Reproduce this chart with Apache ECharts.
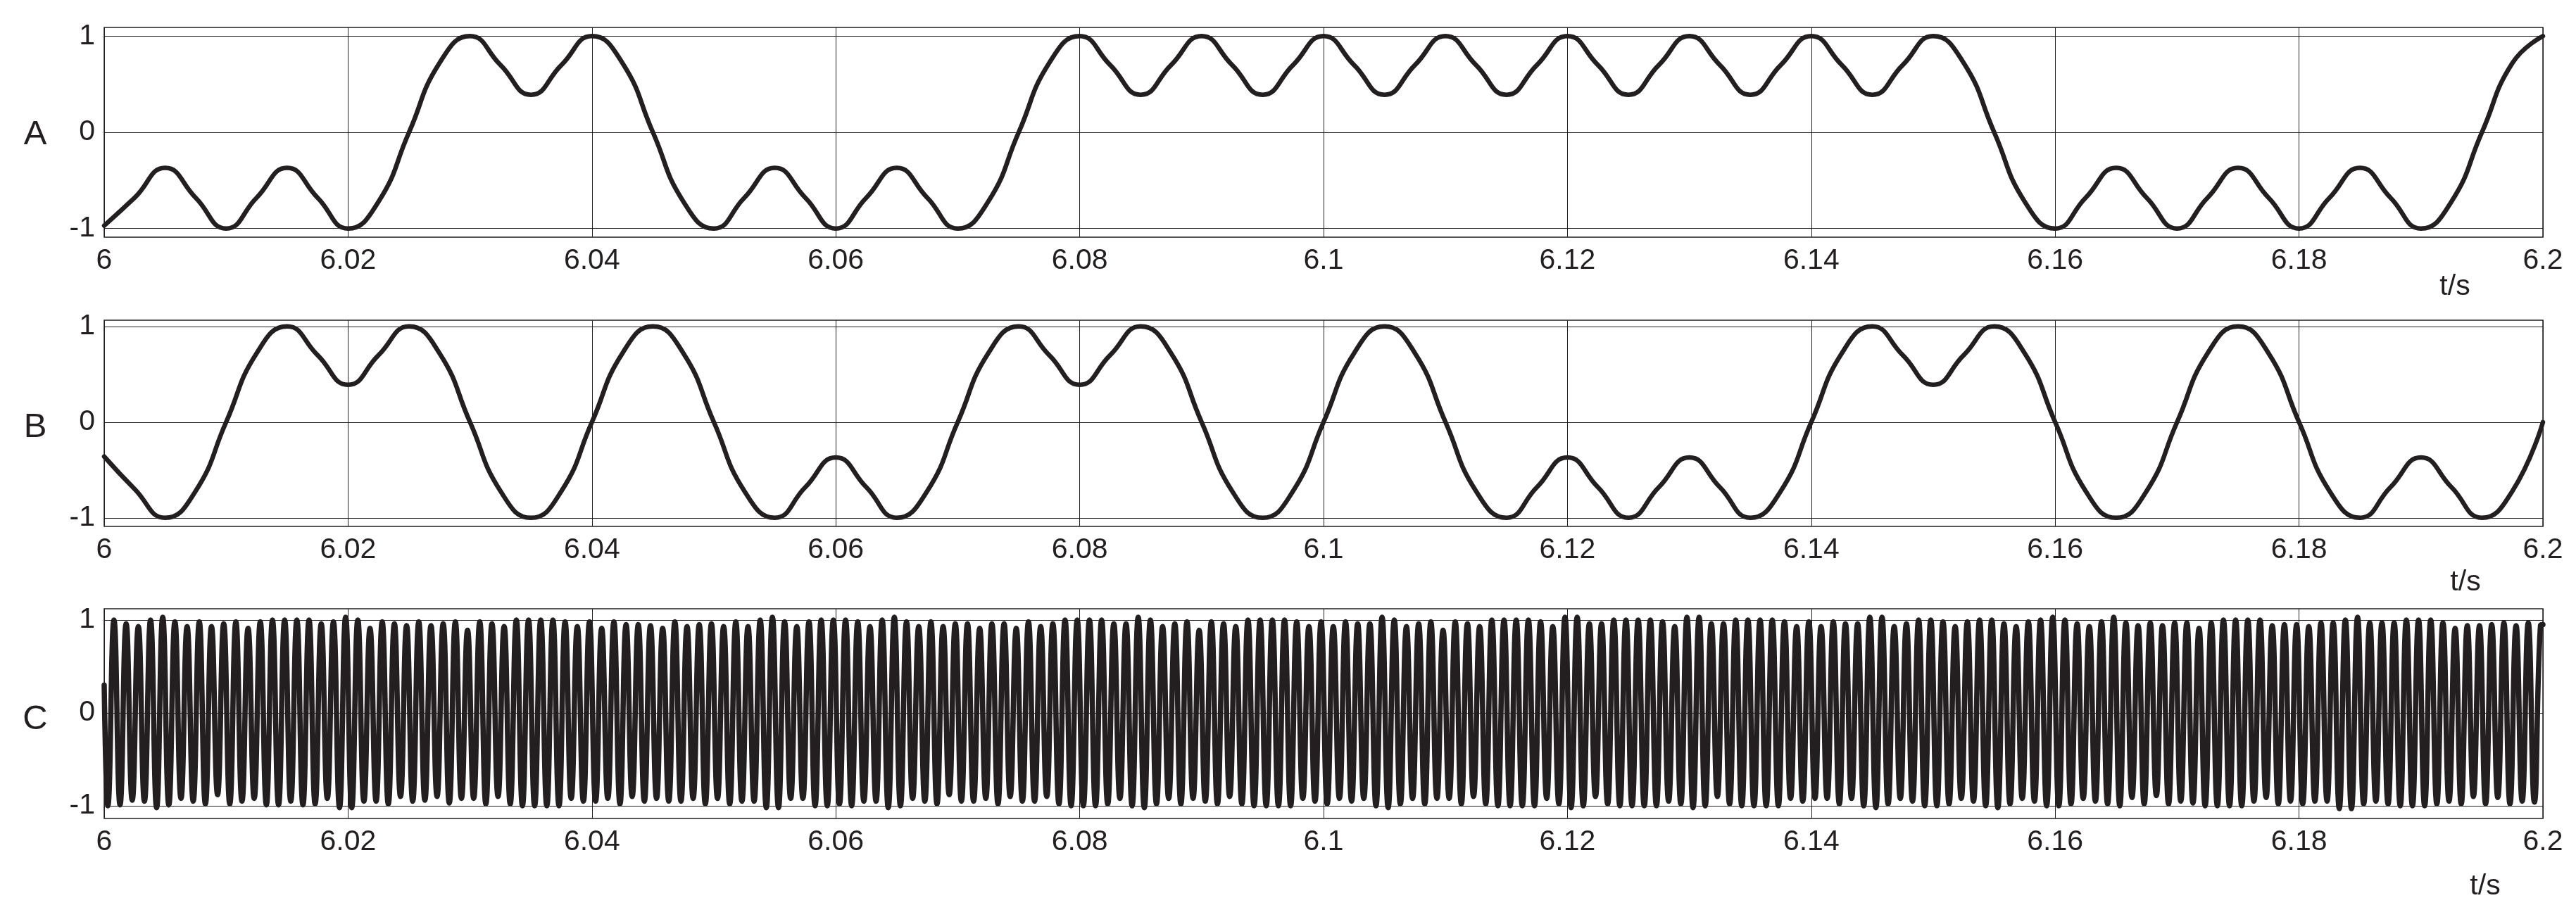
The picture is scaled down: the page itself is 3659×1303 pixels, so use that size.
<!DOCTYPE html>
<html><head><meta charset="utf-8">
<script src="https://cdn.jsdelivr.net/npm/echarts@6/dist/echarts.min.js"></script>
<style>html,body{margin:0;padding:0;background:#fff;}#c{width:3659px;height:1303px;}</style>
</head><body><div id="c"></div>
<script>
// ---- data ----
const tStart = 6, tEnd = 6.2, tStep = 0.02;
const yTickValues = [-1, 0, 1];
const panelNames = ['A', 'B', 'C'];
const axisUnit = 't/s';

// A and B sampled every 0.0025 s from t = 6.000 to 6.200
const abStep = 0.0025;
const seriesA = [
  -0.97,-0.68, -0.37,-0.68, -1,-0.68, -0.37,-0.68, -1,-0.72, 0,0.72, 1,0.7, 0.39,0.7, 1,0.72, 0,-0.72,
  -1,-0.68, -0.37,-0.68, -1,-0.68, -0.37,-0.68, -1,-0.72, 0,0.72, 1,0.7, 0.39,0.7, 1,0.7, 0.39,0.7,
  1,0.7, 0.39,0.7, 1,0.7, 0.39,0.7, 1,0.7, 0.39,0.7, 1,0.7, 0.39,0.7, 1,0.7, 0.39,0.7, 1,0.72, 0,-0.72,
  -1,-0.68, -0.37,-0.68, -1,-0.68, -0.37,-0.68, -1,-0.68, -0.37,-0.68, -1,-0.72, 0,0.72, 1
];
const seriesB = [
  -0.36,-0.7, -1,-0.72, 0,0.72, 1,0.7, 0.39,0.7, 1,0.72, 0,-0.72, -1,-0.72, 0,0.72, 1,0.72,
  0,-0.72, -1,-0.68, -0.37,-0.68, -1,-0.72, 0,0.72, 1,0.7, 0.39,0.7, 1,0.72, 0,-0.72, -1,-0.72,
  0,0.72, 1,0.72, 0,-0.72, -1,-0.68, -0.37,-0.68, -1,-0.68, -0.37,-0.68, -1,-0.72, 0,0.72, 1,0.7,
  0.39,0.7, 1,0.72, 0,-0.72, -1,-0.72, 0,0.72, 1,0.72, 0,-0.72, -1,-0.68, -0.37,-0.68, -1,-0.72, 0
];

// C: one peak and one trough per carrier cycle (1 ms), 200 cycles
const cPeriod = 0.001, cFirstTrough = 6.0003, cHalf = 0.0005;
const cStartValue = 0.3, cEndValue = 0.95;
const cPeaks = [
  1.00,0.96,0.93,1.00,1.03,0.98,0.93,0.98,0.93,0.96,0.98,0.91,0.98,1.00,1.00,1.00,1.00,0.96,0.98,1.03,
  1.00,0.91,0.98,0.96,0.94,0.98,0.94,0.96,0.98,0.89,
  0.98,0.96,0.93,1.00,1.00,1.00,1.00,0.98,0.93,0.98,0.91,0.98,0.95,0.95,0.94,0.91,0.98,0.93,0.95,0.96,
  0.93,0.98,0.93,1.00,1.03,0.98,0.93,0.98,1.00,
  1.00,1.00,0.98,0.93,1.00,1.03,0.98,0.93,0.98,0.93,0.96,0.96,0.91,0.96,0.96,0.91,0.98,0.93,0.96,1.00,
  1.00,1.00,1.00,0.96,0.96,1.03,1.00,0.93,0.96,0.98,
  0.89,0.98,0.96,0.93,1.00,1.00,1.00,1.00,0.98,0.93,0.98,0.93,0.98,0.96,0.96,1.03,1.00,0.93,0.96,0.98,
  0.89,0.98,0.96,0.93,1.00,1.00,1.00,1.00,0.98,
  0.93,1.03,1.03,0.96,0.96,1.00,1.00,1.00,1.00,0.98,0.93,1.03,1.03,0.96,0.96,1.00,1.00,1.00,1.00,0.98,
  0.93,0.98,0.93,0.98,0.96,0.96,1.03,1.03,0.93,
  0.96,1.00,1.00,0.98,0.93,0.98,1.00,1.00,0.96,0.93,0.98,1.00,1.03,1.00,0.96,0.93,0.98,
  1.03,0.97,0.94,0.97,0.94,0.97,0.97,0.91,0.97,1.00,1.00,1.00,1.00,0.94,0.95,0.95,0.93,0.97,0.97,1.00,
  1.03,0.97,0.97,0.97,1.00,1.00,1.00,0.97,0.91,0.94,0.94,0.95,0.97,0.94,0.97,0.94
];
const cTroughs = [
  -1.00,-0.99,-0.94,-0.95,-1.02,-0.99,-0.92,-0.95,-0.98,-0.88,-0.98,-0.95,-0.92,-0.99,-0.99,-0.95,-0.99,-0.98,-0.92,-1.02,
  -1.02,-0.95,-0.95,-0.98,-0.90,-0.95,-0.94,-0.90,-0.97,-0.92,
  -0.92,-0.98,-0.90,-0.98,-1.00,-1.00,-1.00,-1.00,-0.92,-0.95,-0.95,-0.92,-0.98,-0.90,-0.95,-0.92,-0.95,-0.95,-0.92,-0.98,
  -0.92,-0.98,-0.95,-0.95,-1.02,-1.02,-0.92,-0.92,-1.00,
  -1.00,-0.98,-1.00,-0.95,-0.95,-1.02,-1.00,-0.92,-0.95,-0.98,-0.88,-0.95,-0.95,-0.92,-0.98,-0.90,-0.95,-0.95,-0.90,-0.98,
  -1.00,-1.00,-1.00,-0.98,-0.92,-1.00,-1.02,-0.98,-0.92,-0.98,
  -0.92,-0.95,-0.98,-0.90,-0.98,-1.00,-1.00,-1.00,-1.00,-0.92,-0.95,-0.98,-0.92,-0.95,-0.92,-1.00,-1.02,-0.98,-0.92,-0.98,
  -0.92,-0.92,-0.98,-0.90,-0.98,-1.00,-1.00,-1.00,-1.00,-0.92,
  -0.98,-1.02,-1.00,-0.90,-0.98,-1.00,-1.00,-1.00,-1.00,-0.95,-0.98,-1.02,-1.00,-0.90,-0.98,-1.00,-1.00,-1.00,-1.00,-0.92,
  -0.95,-0.92,-0.92,-0.98,-0.92,-1.00,-1.02,-0.98,-0.92,
  -0.95,-1.00,-1.00,-0.98,-0.92,-0.95,-1.00,-1.02,-0.98,-0.92,-0.95,-1.00,-1.00,-0.98,-0.92,-0.95,-0.98,
  -1.00,-0.91,-0.98,-0.89,-0.98,-0.95,-0.97,-1.00,-1.00,-1.00,-1.00,-0.95,-0.91,-0.98,-0.95,-0.98,-0.95,-0.95,-1.03,-1.03,
  -0.98,-0.95,-0.98,-1.00,-1.00,-1.00,-0.98,-0.95,-0.98,-0.90,-0.98,-0.91,-0.98,-0.95,-0.96
];

// ---- build ----
const ink = '#231f20';
const dataA = seriesA.map((v, i) => [tStart + i * abStep, v]);
const dataB = seriesB.map((v, i) => [tStart + i * abStep, v]);
const dataC = [[tStart, cStartValue]];
for (let k = 0; k < cTroughs.length; k++) {
  const tt = cFirstTrough + k * cPeriod;
  dataC.push([tt, cTroughs[k]]);
  dataC.push([tt + cHalf, cPeaks[k]]);
}
dataC.push([tEnd, cEndValue]);

const grids = [
  {top: 39, height: 298, yMin: -1.09, yMax: 1.09, nameY: 191, unitX: 3487, unitY: 408},
  {top: 455, height: 293, yMin: -1.09, yMax: 1.065, nameY: 607, unitX: 3502, unitY: 828},
  {top: 865, height: 298, yMin: -1.136, yMax: 1.121, nameY: 1022, unitX: 3530, unitY: 1260}
];
const labelFont = {fontSize: 41, fontFamily: '"Liberation Sans", Arial, sans-serif', color: ink};
const fmt = v => String(parseFloat(v.toFixed(2)));

const option = {
  animation: false,
  backgroundColor: '#fff',
  grid: grids.map(g => ({left: 148, right: 47, top: g.top, height: g.height, show: true,
    borderColor: ink, borderWidth: 1.5, backgroundColor: 'transparent'})),
  xAxis: grids.map((g, i) => ({
    type: 'value', gridIndex: i, min: tStart, max: tEnd, interval: tStep,
    axisLine: {show: false}, axisTick: {show: false},
    splitLine: {show: true, lineStyle: {color: ink, width: 1}},
    axisLabel: Object.assign({margin: 13, formatter: fmt, showMinLabel: true, showMaxLabel: true}, labelFont)
  })),
  yAxis: grids.map((g, i) => ({
    type: 'value', gridIndex: i, min: g.yMin, max: g.yMax,
    axisLine: {show: false},
    axisTick: {show: false, customValues: yTickValues},
    splitLine: {show: true, lineStyle: {color: ink, width: 1}},
    axisLabel: Object.assign({margin: 13, customValues: yTickValues, formatter: v => String(Math.round(v))}, labelFont)
  })),
  series: [dataA, dataB, dataC].map((d, i) => ({
    type: 'line', xAxisIndex: i, yAxisIndex: i, data: d, showSymbol: false, symbol: 'none',
    smooth: true, clip: true,
    lineStyle: {color: ink, width: i === 2 ? 7.5 : 6.5, join: 'round', cap: 'round'}
  })),
  graphic: grids.map((g, i) => ({
    type: 'text', x: 50, y: g.nameY,
    style: {text: panelNames[i], font: '49px "Liberation Sans", Arial, sans-serif', fill: ink,
      align: 'center', verticalAlign: 'middle', textAlign: 'center', textVerticalAlign: 'middle'}
  })).concat(grids.map(g => ({
    type: 'text', x: g.unitX, y: g.unitY,
    style: {text: axisUnit, font: '41px "Liberation Sans", Arial, sans-serif', fill: ink,
      align: 'center', verticalAlign: 'middle', textAlign: 'center', textVerticalAlign: 'middle'}
  })))
};
const chart = echarts.init(document.getElementById('c'), null, {renderer: 'canvas'});
chart.setOption(option);
</script>
</body></html>
